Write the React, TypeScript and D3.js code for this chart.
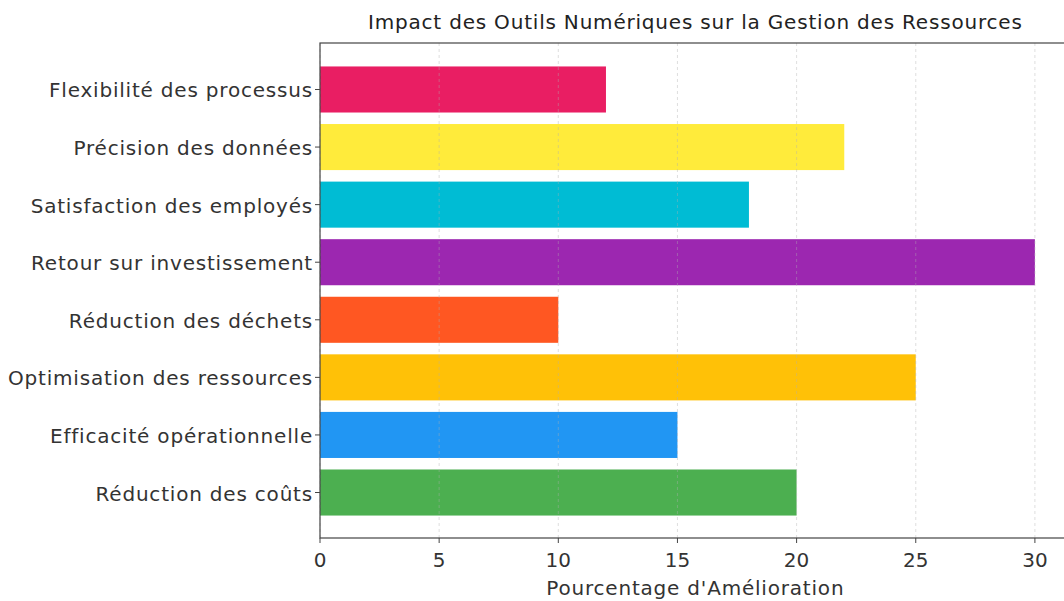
import { useEffect, useRef } from 'react';
import * as d3 from 'd3';

const categories = [
  'Réduction des coûts',
  'Efficacité opérationnelle',
  'Optimisation des ressources',
  'Réduction des déchets',
  'Retour sur investissement',
  'Satisfaction des employés',
  'Précision des données',
  'Flexibilité des processus',
];
const values = [20, 15, 25, 10, 30, 18, 22, 12];
const barColors = ['#4CAF50', '#2196F3', '#FFC107', '#FF5722', '#9C27B0', '#00BCD4', '#FFEB3B', '#E91E63'];
const xTicks = [0, 5, 10, 15, 20, 25, 30];

const title = 'Impact des Outils Numériques sur la Gestion des Ressources';
const xLabel = "Pourcentage d'Amélioration";

export default function App() {
  const svgRef = useRef<SVGSVGElement>(null);

  useEffect(() => {
    if (!svgRef.current) {
      return;
    }
    const width = 1064;
    const height = 601;
    const left = 320;
    const top = 43;
    const bottom = 538;
    const font = '"DejaVu Sans", sans-serif';
    const textColor = '#333';
    const spacing = '0.8px';

    const svg = d3.select(svgRef.current);
    svg.selectAll('*').remove();
    svg.attr('width', width).attr('height', height);

    const xMax = d3.max(values) ?? 30;
    const x = d3.scaleLinear().domain([0, xMax * 1.05]).range([left, left + 30 * 23.83 * 1.05]);

    // matplotlib-like: bars of height 0.8 with 5% margins
    const n = categories.length;
    const span = n - 1 + 0.8;
    const lo = -0.4 - span * 0.05;
    const hi = n - 1 + 0.4 + span * 0.05;
    const y = d3.scaleLinear().domain([lo, hi]).range([bottom, top + 1]);
    const barH = Math.abs(y(0.4) - y(-0.4));

    const g = svg.append('g');

    g.selectAll('rect.bar')
      .data(values)
      .enter()
      .append('rect')
      .attr('class', 'bar')
      .attr('x', x(0))
      .attr('y', (_d, i) => y(i) - barH / 2)
      .attr('width', (d) => x(d) - x(0))
      .attr('height', barH)
      .attr('fill', (_d, i) => barColors[i]);

    // grid
    g.selectAll('line.grid')
      .data(xTicks)
      .enter()
      .append('line')
      .attr('class', 'grid')
      .attr('x1', (d) => x(d))
      .attr('x2', (d) => x(d))
      .attr('y1', top)
      .attr('y2', bottom)
      .attr('stroke', '#b0b0b0')
      .attr('stroke-width', 1)
      .attr('stroke-dasharray', '3,3')
      .attr('opacity', 0.4);

    // frame
    g.append('rect')
      .attr('x', x(0))
      .attr('y', top)
      .attr('width', x(xMax * 1.05) - x(0))
      .attr('height', bottom - top)
      .attr('fill', 'none')
      .attr('stroke', '#444')
      .attr('stroke-width', 1.2);

    // x ticks
    const xt = g.selectAll('g.xt').data(xTicks).enter().append('g').attr('class', 'xt');
    xt.append('line')
      .attr('x1', (d) => x(d))
      .attr('x2', (d) => x(d))
      .attr('y1', bottom)
      .attr('y2', bottom + 5)
      .attr('stroke', '#444');
    xt.append('text')
      .attr('x', (d) => x(d))
      .attr('y', bottom + 29)
      .attr('text-anchor', 'middle')
      .attr('font-family', font)
      .attr('font-size', 20)
      .attr('fill', textColor)
      .text((d) => String(d));

    // y ticks
    const yt = g.selectAll('g.yt').data(categories).enter().append('g').attr('class', 'yt');
    yt.append('line')
      .attr('x1', left - 5)
      .attr('x2', left)
      .attr('y1', (_d, i) => y(i))
      .attr('y2', (_d, i) => y(i))
      .attr('stroke', '#444');
    yt.append('text')
      .attr('x', left - 7)
      .attr('y', (_d, i) => y(i) + 1)
      .attr('dy', '0.35em')
      .attr('text-anchor', 'end')
      .attr('font-family', font)
      .attr('font-size', 20)
      .attr('letter-spacing', spacing)
      .attr('fill', textColor)
      .text((d) => d);

    const cx = (x(0) + x(xMax * 1.05)) / 2;
    svg.append('text')
      .attr('x', cx)
      .attr('y', 29)
      .attr('text-anchor', 'middle')
      .attr('font-family', font)
      .attr('font-size', 20)
      .attr('letter-spacing', spacing)
      .attr('fill', '#222')
      .text(title);

    svg.append('text')
      .attr('x', cx)
      .attr('y', 595)
      .attr('text-anchor', 'middle')
      .attr('font-family', font)
      .attr('font-size', 20)
      .attr('letter-spacing', spacing)
      .attr('fill', textColor)
      .text(xLabel);
  }, []);

  return (
    <div style={{ position: 'absolute', left: 0, top: 0, width: 1064, height: 601, overflow: 'hidden', background: '#fff' }}>
      <svg ref={svgRef} style={{ display: 'block' }} />
    </div>
  );
}
